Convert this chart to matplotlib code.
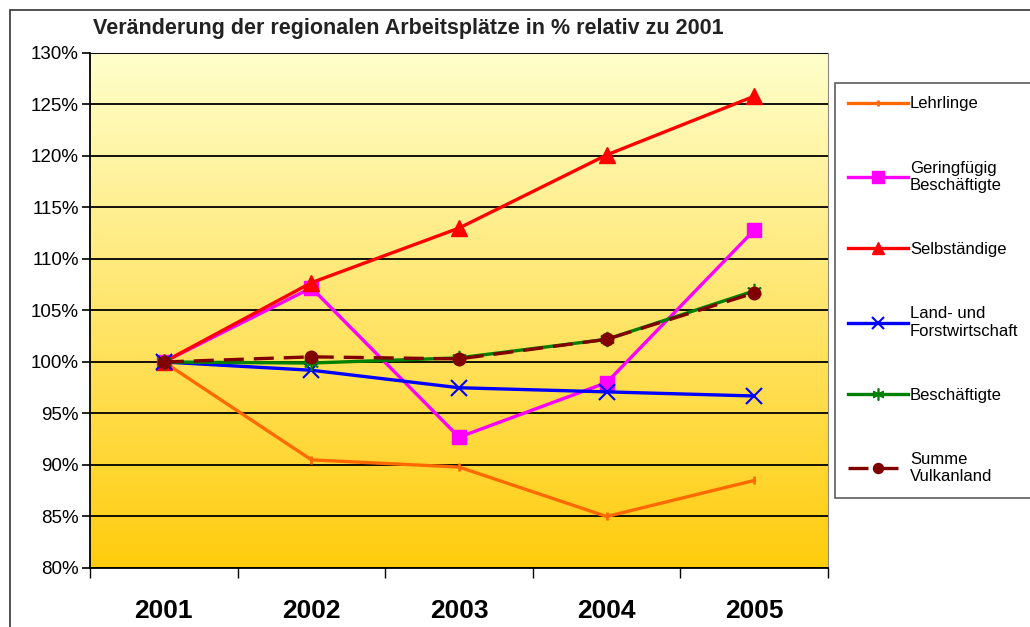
import numpy as np
import matplotlib.pyplot as plt
from matplotlib.patches import Rectangle
from matplotlib.ticker import FixedLocator, NullFormatter

plt.rcParams['font.family'] = ['Liberation Sans', 'DejaVu Sans']

jahre = ['2001', '2002', '2003', '2004', '2005']

lehrlinge = [100.0, 90.5, 89.8, 85.0, 88.5]
geringfuegig = [100.0, 107.2, 92.7, 98.0, 112.8]
selbstaendige = [100.0, 107.7, 113.0, 120.1, 125.8]
land_forst = [100.0, 99.2, 97.5, 97.1, 96.7]
beschaeftigte = [100.0, 99.9, 100.4, 102.2, 106.9]
summe = [100.0, 100.5, 100.3, 102.2, 106.7]

fig = plt.figure(figsize=(10.3, 6.27), dpi=100)
ax = fig.add_axes([0.0874, 0.0941, 0.7165, 0.8214])

# rahmen um die ganze grafik
fig.patches.append(Rectangle((0.0097, -0.1), 1.2, 1.084, transform=fig.transFigure,
                             fill=False, edgecolor='#333333', linewidth=1.2))

x = np.arange(len(jahre))

# farbverlauf hellgelb (oben) -> gold (unten)
verlauf = np.linspace(0, 1, 256).reshape(-1, 1)
oben = np.array([1.0, 1.0, 0.80])
unten = np.array([1.0, 0.80, 0.05])
bild = oben + (unten - oben) * verlauf[:, :, None]
ax.imshow(bild, extent=[-0.5, 4.5, 80, 130], origin='upper', aspect='auto', zorder=0)

ax.plot(x, lehrlinge, color='#FF6A00', lw=2.4, marker='|', ms=6, mew=2, label='Lehrlinge', zorder=3)
ax.plot(x, geringfuegig, color='#FF00FF', lw=2.4, marker='s', ms=10, label='Geringfügig\nBeschäftigte', zorder=3)
ax.plot(x, selbstaendige, color='#FF0000', lw=2.4, marker='^', ms=11, label='Selbständige', zorder=3)
ax.plot(x, land_forst, color='#0000FF', lw=2.4, marker='x', ms=11, mew=1.5, label='Land- und\nForstwirtschaft', zorder=3)
ax.plot(x, beschaeftigte, color='#008000', lw=2.4, marker=(6, 2, 0), ms=11, mew=1.2, label='Beschäftigte', zorder=3)
ax.plot(x, summe, color='#800000', lw=2.4, ls=(0, (6, 3)), marker='o', ms=9, label='Summe\nVulkanland', zorder=4)

ax.set_xlim(-0.5, 4.5)
ax.set_ylim(80, 130)
ax.set_yticks(np.arange(80, 131, 5))
ax.set_yticklabels([f'{v}%' for v in range(80, 131, 5)], fontsize=13.5)
ax.yaxis.grid(True, color='black', lw=1.3)
ax.set_axisbelow(False)

ax.xaxis.set_major_locator(FixedLocator(np.arange(-0.5, 4.6, 1)))
ax.xaxis.set_major_formatter(NullFormatter())
ax.xaxis.set_minor_locator(FixedLocator(x))
ax.set_xticklabels(jahre, minor=True, fontsize=19, fontweight='bold')
ax.tick_params(axis='x', which='major', length=7, width=1)
ax.tick_params(axis='x', which='minor', length=0, pad=22)
ax.tick_params(axis='y', length=6, width=1.2, pad=2)

for s in ['top', 'right']:
    ax.spines[s].set_color('#888888')
    ax.spines[s].set_linewidth(0.8)
ax.spines['left'].set_linewidth(1.3)
ax.spines['bottom'].set_linewidth(1.3)

fig.text(0.090, 0.955, 'Veränderung der regionalen Arbeitsplätze in % relativ zu 2001',
         fontsize=15.5, fontweight='bold', color='#222222', va='center')

leg = ax.legend(loc='upper left', bbox_to_anchor=(0.8107, 0.8676), bbox_transform=fig.transFigure,
                borderaxespad=0, fontsize=12, frameon=True, fancybox=False, edgecolor='#333333',
                labelspacing=2.95, handlelength=3.6, handletextpad=0.1, borderpad=0.8,
                markerscale=0.8)
leg.get_frame().set_linewidth(1.2)
for t in leg.get_texts():
    t.set_multialignment('left')

fig.savefig('out.png', dpi=100)
